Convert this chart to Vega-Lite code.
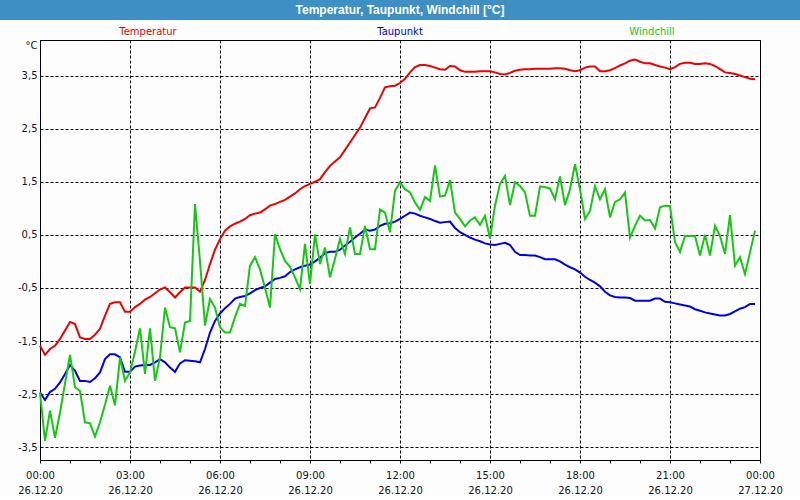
{
  "$schema": "https://vega.github.io/schema/vega-lite/v6.json",
  "background": "#fcfdfc",
  "padding": 0,
  "spacing": 20,
  "bounds": "flush",
  "center": true,
  "config": {"font": "DejaVu Sans"},
  "vconcat": [
    {
      "width": 800,
      "height": 20,
      "view": {"fill": "#3d8fc4", "stroke": null},
      "data": {"values": [{"title": "Temperatur, Taupunkt, Windchill [°C]"}]},
      "mark": {"type": "text", "color": "#ffffff", "font": "Liberation Sans", "fontWeight": "bold", "fontSize": 12, "baseline": "middle", "align": "center"},
      "encoding": {"text": {"field": "title", "type": "nominal"}}
    },
    {
      "width": 720,
      "height": 420,
      "view": {"stroke": "#000000", "strokeWidth": 1},
      "layer": [
        {
          "data": {"values": [
            {"min":0,"Temperatur":-1.59,"Taupunkt":-2.47,"Windchill":-2.47},
            {"min":10,"Temperatur":-1.76,"Taupunkt":-2.61,"Windchill":-3.38},
            {"min":20,"Temperatur":-1.65,"Taupunkt":-2.46,"Windchill":-2.81},
            {"min":30,"Temperatur":-1.59,"Taupunkt":-2.40,"Windchill":-3.32},
            {"min":40,"Temperatur":-1.46,"Taupunkt":-2.28,"Windchill":-2.85},
            {"min":50,"Temperatur":-1.30,"Taupunkt":-2.12,"Windchill":-2.30},
            {"min":60,"Temperatur":-1.14,"Taupunkt":-1.95,"Windchill":-1.76},
            {"min":70,"Temperatur":-1.18,"Taupunkt":-2.06,"Windchill":-2.37},
            {"min":80,"Temperatur":-1.43,"Taupunkt":-2.25,"Windchill":-2.44},
            {"min":90,"Temperatur":-1.46,"Taupunkt":-2.25,"Windchill":-3.03},
            {"min":100,"Temperatur":-1.46,"Taupunkt":-2.27,"Windchill":-3.05},
            {"min":110,"Temperatur":-1.38,"Taupunkt":-2.20,"Windchill":-3.30},
            {"min":120,"Temperatur":-1.27,"Taupunkt":-2.09,"Windchill":-3.03},
            {"min":130,"Temperatur":-1.02,"Taupunkt":-1.84,"Windchill":-2.70},
            {"min":140,"Temperatur":-0.80,"Taupunkt":-1.75,"Windchill":-2.34},
            {"min":150,"Temperatur":-0.77,"Taupunkt":-1.75,"Windchill":-2.71},
            {"min":160,"Temperatur":-0.77,"Taupunkt":-1.81,"Windchill":-1.81},
            {"min":170,"Temperatur":-0.95,"Taupunkt":-2.08,"Windchill":-2.25},
            {"min":180,"Temperatur":-0.95,"Taupunkt":-2.08,"Windchill":-2.09},
            {"min":190,"Temperatur":-0.86,"Taupunkt":-1.98,"Windchill":-1.70},
            {"min":200,"Temperatur":-0.80,"Taupunkt":-1.96,"Windchill":-1.26},
            {"min":210,"Temperatur":-0.72,"Taupunkt":-1.95,"Windchill":-2.12},
            {"min":220,"Temperatur":-0.67,"Taupunkt":-1.95,"Windchill":-1.26},
            {"min":230,"Temperatur":-0.60,"Taupunkt":-1.90,"Windchill":-2.25},
            {"min":240,"Temperatur":-0.53,"Taupunkt":-1.84,"Windchill":-1.80},
            {"min":250,"Temperatur":-0.49,"Taupunkt":-1.90,"Windchill":-0.87},
            {"min":260,"Temperatur":-0.58,"Taupunkt":-2.00,"Windchill":-1.24},
            {"min":270,"Temperatur":-0.68,"Taupunkt":-2.08,"Windchill":-1.26},
            {"min":280,"Temperatur":-0.58,"Taupunkt":-1.92,"Windchill":-1.71},
            {"min":290,"Temperatur":-0.49,"Taupunkt":-1.86,"Windchill":-1.15},
            {"min":300,"Temperatur":-0.49,"Taupunkt":-1.87,"Windchill":-1.12},
            {"min":310,"Temperatur":-0.49,"Taupunkt":-1.88,"Windchill":1.08},
            {"min":320,"Temperatur":-0.57,"Taupunkt":-1.90,"Windchill":0.00},
            {"min":330,"Temperatur":-0.35,"Taupunkt":-1.65,"Windchill":-1.21},
            {"min":340,"Temperatur":-0.05,"Taupunkt":-1.34,"Windchill":-0.71},
            {"min":350,"Temperatur":0.22,"Taupunkt":-1.12,"Windchill":-0.87},
            {"min":360,"Temperatur":0.42,"Taupunkt":-0.98,"Windchill":-1.24},
            {"min":370,"Temperatur":0.58,"Taupunkt":-0.88,"Windchill":-1.34},
            {"min":380,"Temperatur":0.66,"Taupunkt":-0.80,"Windchill":-1.34},
            {"min":390,"Temperatur":0.71,"Taupunkt":-0.70,"Windchill":-1.05},
            {"min":400,"Temperatur":0.75,"Taupunkt":-0.67,"Windchill":-0.80},
            {"min":410,"Temperatur":0.80,"Taupunkt":-0.65,"Windchill":-0.84},
            {"min":420,"Temperatur":0.87,"Taupunkt":-0.60,"Windchill":-0.08},
            {"min":430,"Temperatur":0.90,"Taupunkt":-0.54,"Windchill":0.08},
            {"min":440,"Temperatur":0.92,"Taupunkt":-0.50,"Windchill":-0.15},
            {"min":450,"Temperatur":0.98,"Taupunkt":-0.47,"Windchill":-0.50},
            {"min":460,"Temperatur":1.05,"Taupunkt":-0.40,"Windchill":-0.87},
            {"min":470,"Temperatur":1.08,"Taupunkt":-0.33,"Windchill":0.51},
            {"min":480,"Temperatur":1.12,"Taupunkt":-0.31,"Windchill":0.23},
            {"min":490,"Temperatur":1.16,"Taupunkt":-0.28,"Windchill":0.01},
            {"min":500,"Temperatur":1.22,"Taupunkt":-0.20,"Windchill":-0.10},
            {"min":510,"Temperatur":1.28,"Taupunkt":-0.15,"Windchill":-0.30},
            {"min":520,"Temperatur":1.36,"Taupunkt":-0.11,"Windchill":-0.52},
            {"min":530,"Temperatur":1.42,"Taupunkt":-0.08,"Windchill":0.33},
            {"min":540,"Temperatur":1.46,"Taupunkt":-0.06,"Windchill":-0.43},
            {"min":550,"Temperatur":1.50,"Taupunkt":0.00,"Windchill":0.51},
            {"min":560,"Temperatur":1.55,"Taupunkt":0.07,"Windchill":-0.05},
            {"min":570,"Temperatur":1.68,"Taupunkt":0.16,"Windchill":0.26},
            {"min":580,"Temperatur":1.80,"Taupunkt":0.18,"Windchill":-0.30},
            {"min":590,"Temperatur":1.88,"Taupunkt":0.18,"Windchill":0.05},
            {"min":600,"Temperatur":1.96,"Taupunkt":0.22,"Windchill":0.42},
            {"min":610,"Temperatur":2.10,"Taupunkt":0.30,"Windchill":0.14},
            {"min":620,"Temperatur":2.24,"Taupunkt":0.37,"Windchill":0.64},
            {"min":630,"Temperatur":2.38,"Taupunkt":0.45,"Windchill":0.14},
            {"min":640,"Temperatur":2.52,"Taupunkt":0.52,"Windchill":0.14},
            {"min":650,"Temperatur":2.70,"Taupunkt":0.60,"Windchill":0.67},
            {"min":660,"Temperatur":2.88,"Taupunkt":0.58,"Windchill":0.23},
            {"min":670,"Temperatur":2.90,"Taupunkt":0.60,"Windchill":0.23},
            {"min":680,"Temperatur":3.08,"Taupunkt":0.67,"Windchill":0.98},
            {"min":690,"Temperatur":3.28,"Taupunkt":0.71,"Windchill":0.92},
            {"min":700,"Temperatur":3.30,"Taupunkt":0.72,"Windchill":0.55},
            {"min":710,"Temperatur":3.31,"Taupunkt":0.75,"Windchill":1.33},
            {"min":720,"Temperatur":3.36,"Taupunkt":0.80,"Windchill":1.49},
            {"min":730,"Temperatur":3.44,"Taupunkt":0.86,"Windchill":1.36},
            {"min":740,"Temperatur":3.56,"Taupunkt":0.92,"Windchill":1.30},
            {"min":750,"Temperatur":3.66,"Taupunkt":0.90,"Windchill":1.11},
            {"min":760,"Temperatur":3.70,"Taupunkt":0.86,"Windchill":0.97},
            {"min":770,"Temperatur":3.70,"Taupunkt":0.83,"Windchill":1.21},
            {"min":780,"Temperatur":3.68,"Taupunkt":0.80,"Windchill":1.14},
            {"min":790,"Temperatur":3.65,"Taupunkt":0.76,"Windchill":1.81},
            {"min":800,"Temperatur":3.62,"Taupunkt":0.73,"Windchill":1.22},
            {"min":810,"Temperatur":3.61,"Taupunkt":0.74,"Windchill":1.24},
            {"min":820,"Temperatur":3.68,"Taupunkt":0.75,"Windchill":1.53},
            {"min":830,"Temperatur":3.67,"Taupunkt":0.63,"Windchill":0.92},
            {"min":840,"Temperatur":3.60,"Taupunkt":0.55,"Windchill":0.80},
            {"min":850,"Temperatur":3.57,"Taupunkt":0.50,"Windchill":0.66},
            {"min":860,"Temperatur":3.57,"Taupunkt":0.45,"Windchill":0.77},
            {"min":870,"Temperatur":3.57,"Taupunkt":0.41,"Windchill":0.83},
            {"min":880,"Temperatur":3.58,"Taupunkt":0.38,"Windchill":0.69},
            {"min":890,"Temperatur":3.58,"Taupunkt":0.34,"Windchill":0.86},
            {"min":900,"Temperatur":3.58,"Taupunkt":0.32,"Windchill":0.43},
            {"min":910,"Temperatur":3.56,"Taupunkt":0.31,"Windchill":1.05},
            {"min":920,"Temperatur":3.53,"Taupunkt":0.33,"Windchill":1.46},
            {"min":930,"Temperatur":3.52,"Taupunkt":0.35,"Windchill":1.61},
            {"min":940,"Temperatur":3.55,"Taupunkt":0.31,"Windchill":1.06},
            {"min":950,"Temperatur":3.59,"Taupunkt":0.18,"Windchill":1.49},
            {"min":960,"Temperatur":3.61,"Taupunkt":0.12,"Windchill":1.42},
            {"min":970,"Temperatur":3.62,"Taupunkt":0.12,"Windchill":1.30},
            {"min":980,"Temperatur":3.62,"Taupunkt":0.11,"Windchill":0.86},
            {"min":990,"Temperatur":3.63,"Taupunkt":0.11,"Windchill":0.86},
            {"min":1000,"Temperatur":3.63,"Taupunkt":0.08,"Windchill":1.41},
            {"min":1010,"Temperatur":3.63,"Taupunkt":0.04,"Windchill":1.40},
            {"min":1020,"Temperatur":3.63,"Taupunkt":0.04,"Windchill":1.37},
            {"min":1030,"Temperatur":3.64,"Taupunkt":0.04,"Windchill":1.17},
            {"min":1040,"Temperatur":3.64,"Taupunkt":0.00,"Windchill":1.60},
            {"min":1050,"Temperatur":3.63,"Taupunkt":-0.06,"Windchill":1.06},
            {"min":1060,"Temperatur":3.60,"Taupunkt":-0.11,"Windchill":1.36},
            {"min":1070,"Temperatur":3.58,"Taupunkt":-0.15,"Windchill":1.83},
            {"min":1080,"Temperatur":3.60,"Taupunkt":-0.21,"Windchill":1.36},
            {"min":1090,"Temperatur":3.65,"Taupunkt":-0.29,"Windchill":0.80},
            {"min":1100,"Temperatur":3.67,"Taupunkt":-0.35,"Windchill":0.95},
            {"min":1110,"Temperatur":3.67,"Taupunkt":-0.40,"Windchill":1.42},
            {"min":1120,"Temperatur":3.58,"Taupunkt":-0.47,"Windchill":1.17},
            {"min":1130,"Temperatur":3.58,"Taupunkt":-0.57,"Windchill":1.36},
            {"min":1140,"Temperatur":3.60,"Taupunkt":-0.64,"Windchill":0.83},
            {"min":1150,"Temperatur":3.64,"Taupunkt":-0.67,"Windchill":1.12},
            {"min":1160,"Temperatur":3.69,"Taupunkt":-0.68,"Windchill":1.17},
            {"min":1170,"Temperatur":3.73,"Taupunkt":-0.68,"Windchill":1.30},
            {"min":1180,"Temperatur":3.78,"Taupunkt":-0.69,"Windchill":0.45},
            {"min":1190,"Temperatur":3.80,"Taupunkt":-0.74,"Windchill":0.67},
            {"min":1200,"Temperatur":3.76,"Taupunkt":-0.74,"Windchill":0.86},
            {"min":1210,"Temperatur":3.73,"Taupunkt":-0.74,"Windchill":0.77},
            {"min":1220,"Temperatur":3.73,"Taupunkt":-0.74,"Windchill":0.78},
            {"min":1230,"Temperatur":3.70,"Taupunkt":-0.70,"Windchill":0.62},
            {"min":1240,"Temperatur":3.67,"Taupunkt":-0.70,"Windchill":1.02},
            {"min":1250,"Temperatur":3.65,"Taupunkt":-0.76,"Windchill":1.05},
            {"min":1260,"Temperatur":3.62,"Taupunkt":-0.77,"Windchill":1.04},
            {"min":1270,"Temperatur":3.66,"Taupunkt":-0.79,"Windchill":0.36},
            {"min":1280,"Temperatur":3.72,"Taupunkt":-0.81,"Windchill":0.18},
            {"min":1290,"Temperatur":3.74,"Taupunkt":-0.83,"Windchill":0.48},
            {"min":1300,"Temperatur":3.74,"Taupunkt":-0.85,"Windchill":0.48},
            {"min":1310,"Temperatur":3.72,"Taupunkt":-0.90,"Windchill":0.48},
            {"min":1320,"Temperatur":3.72,"Taupunkt":-0.93,"Windchill":0.11},
            {"min":1330,"Temperatur":3.73,"Taupunkt":-0.96,"Windchill":0.50},
            {"min":1340,"Temperatur":3.72,"Taupunkt":-0.98,"Windchill":0.11},
            {"min":1350,"Temperatur":3.68,"Taupunkt":-1.00,"Windchill":0.67},
            {"min":1360,"Temperatur":3.62,"Taupunkt":-1.02,"Windchill":0.48},
            {"min":1370,"Temperatur":3.56,"Taupunkt":-1.02,"Windchill":0.14},
            {"min":1380,"Temperatur":3.55,"Taupunkt":-0.99,"Windchill":0.87},
            {"min":1390,"Temperatur":3.53,"Taupunkt":-0.94,"Windchill":-0.08},
            {"min":1400,"Temperatur":3.50,"Taupunkt":-0.89,"Windchill":0.08},
            {"min":1410,"Temperatur":3.47,"Taupunkt":-0.86,"Windchill":-0.24},
            {"min":1420,"Temperatur":3.44,"Taupunkt":-0.80,"Windchill":0.17},
            {"min":1430,"Temperatur":3.43,"Taupunkt":-0.80,"Windchill":0.58}
          ]},
          "transform": [{"fold": ["Temperatur", "Taupunkt", "Windchill"], "as": ["series", "value"]}],
          "mark": {"type": "line", "strokeWidth": 2},
          "encoding": {
            "x": {
              "field": "min", "type": "quantitative",
              "scale": {"domain": [0, 1440], "nice": false, "zero": false},
              "axis": {
                "title": null,
                "values": [0,60,120,180,240,300,360,420,480,540,600,660,720,780,840,900,960,1020,1080,1140,1200,1260,1320,1380,1440],
                "tickSize": 3, "tickColor": "#000000", "domainColor": "#000000",
                "labelExpr": "datum.value % 180 == 0 ? [(floor(datum.value / 60) % 24 < 10 ? '0' : '') + (floor(datum.value / 60) % 24) + ':00', datum.value < 1440 ? '26.12.20' : '27.12.20'] : ''",
                "labelFontSize": 10, "labelColor": "#141428",
                "labelPadding": 7, "labelLineHeight": 15, "labelFlush": false, "labelOverlap": false, "labelBound": false,
                "grid": true, "gridColor": "#000000", "gridDash": [3, 2],
                "gridOpacity": {"condition": {"test": "datum.value % 180 == 0", "value": 1}, "value": 0}
              }
            },
            "y": {
              "field": "value", "type": "quantitative",
              "scale": {"domain": [-3.74, 4.17], "nice": false, "zero": false},
              "axis": {
                "title": "°C", "titleAngle": 0, "titleAlign": "right", "titleBaseline": "middle",
                "titleX": -3, "titleY": 5, "titleFontWeight": "normal", "titleFontSize": 10, "titleColor": "#141428",
                "values": [-3.5, -3, -2.5, -2, -1.5, -1, -0.5, 0, 0.5, 1, 1.5, 2, 2.5, 3, 3.5],
                "ticks": false, "labelPadding": 3, "domainColor": "#000000",
                "labelExpr": "(datum.value < 0 ? '-' : '') + floor(abs(datum.value) + 0.01) + ',' + (abs(datum.value) % 1 > 0.25 ? '5' : '0')",
                "labelFontSize": 10, "labelColor": "#141428", "labelFlush": false, "labelOverlap": false, "labelSeparation": 0,
                "grid": true, "gridColor": "#000000", "gridDash": [3, 2]
              }
            },
            "color": {
              "field": "series", "type": "nominal",
              "scale": {"domain": ["Temperatur", "Taupunkt", "Windchill"], "range": ["#f00000", "#0000f0", "#14c814"]},
              "legend": null
            }
          }
        },
        {
          "mark": {"type": "rule", "color": "#000000", "strokeDash": [3, 2], "strokeWidth": 1},
          "encoding": {"y": {"datum": 4}}
        },
        {
          "data": {"values": [{"label": "Temperatur"}, {"label": "Taupunkt"}, {"label": "Windchill"}]},
          "mark": {"type": "text", "fontSize": 10, "baseline": "middle", "align": "center"},
          "encoding": {
            "x": {"field": "label", "type": "nominal", "sort": null, "scale": {"type": "point", "padding": 0.4286}, "axis": null},
            "y": {"datum": 4.33},
            "text": {"field": "label", "type": "nominal"},
            "color": {"field": "label", "type": "nominal", "legend": null}
          }
        }
      ],
      "resolve": {"scale": {"x": "independent"}}
    }
  ]
}
